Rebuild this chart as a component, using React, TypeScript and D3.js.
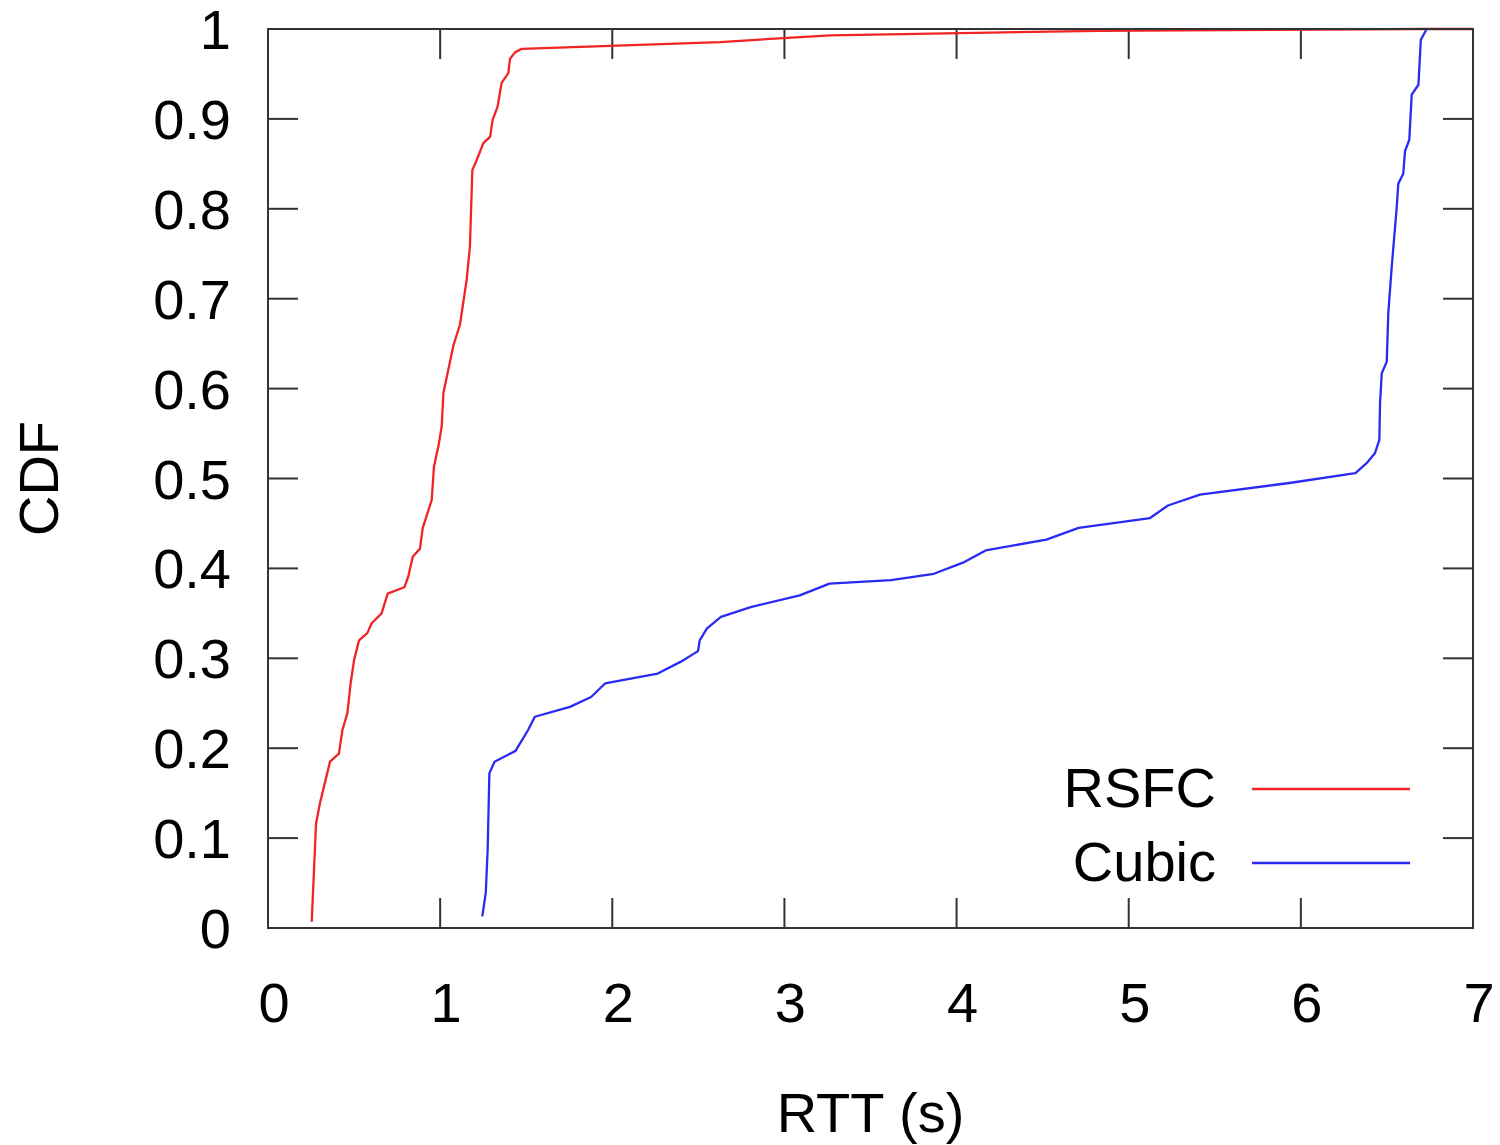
import * as d3 from "d3";

// RTT CDF values
const rsfcRtt = [0.254, 0.279, 0.302, 0.325, 0.36, 0.412, 0.432, 0.461, 0.48, 0.5, 0.529, 0.577, 0.602, 0.66, 0.695, 0.792, 0.815, 0.841, 0.883, 0.899, 0.951, 0.964, 0.993, 1.009, 1.019, 1.077, 1.115, 1.154, 1.173, 1.187, 1.212, 1.251, 1.29, 1.305, 1.334, 1.357, 1.396, 1.406, 1.435, 1.474, 2.626, 3.265, 4.83, 6.69, 7.0];
const rsfcCdf = [0.007, 0.116, 0.139, 0.157, 0.185, 0.194, 0.22, 0.239, 0.272, 0.298, 0.32, 0.328, 0.339, 0.35, 0.372, 0.379, 0.391, 0.413, 0.422, 0.445, 0.476, 0.513, 0.539, 0.558, 0.595, 0.648, 0.671, 0.721, 0.758, 0.843, 0.854, 0.873, 0.88, 0.899, 0.914, 0.94, 0.951, 0.967, 0.974, 0.978, 0.9855, 0.993, 0.998, 1.0, 1.0];

const cubicRtt = [1.245, 1.265, 1.276, 1.286, 1.316, 1.438, 1.51, 1.55, 1.754, 1.877, 1.958, 2.264, 2.396, 2.498, 2.508, 2.549, 2.631, 2.804, 3.089, 3.262, 3.619, 3.868, 4.045, 4.169, 4.522, 4.709, 5.124, 5.228, 5.414, 5.933, 6.317, 6.382, 6.43, 6.456, 6.46, 6.47, 6.499, 6.508, 6.528, 6.557, 6.566, 6.595, 6.605, 6.63, 6.644, 6.683, 6.697, 6.731];
const cubicCdf = [0.013, 0.039, 0.087, 0.172, 0.185, 0.197, 0.22, 0.235, 0.246, 0.257, 0.272, 0.283, 0.296, 0.308, 0.32, 0.333, 0.346, 0.357, 0.37, 0.383, 0.387, 0.394, 0.407, 0.42, 0.432, 0.445, 0.456, 0.47, 0.482, 0.495, 0.506, 0.517, 0.528, 0.543, 0.584, 0.617, 0.63, 0.684, 0.736, 0.802, 0.828, 0.839, 0.864, 0.877, 0.927, 0.938, 0.988, 1.0];

const xTicks = [0, 1, 2, 3, 4, 5, 6, 7];
const yTicks = [0, 0.1, 0.2, 0.3, 0.4, 0.5, 0.6, 0.7, 0.8, 0.9, 1];

const seriesNames = ["RSFC", "Cubic"];
const seriesColors = ["#f02424", "#2a2af2"];

const width = 1500;
const height = 1145;
const left = 268;
const right = 1473;
const top = 29;
const bottom = 928;
const tickLen = 30;
const fs = 56;
const font = "'Liberation Sans', Arial, Helvetica, sans-serif";

function App() {
  const x = d3.scaleLinear().domain([0, 7]).range([left, right]);
  const y = d3.scaleLinear().domain([0, 1]).range([bottom, top]);

  const line = d3
    .line<[number, number]>()
    .x((d) => x(d[0]))
    .y((d) => y(d[1]));

  const rsfc = line(rsfcRtt.map((v, i) => [v, rsfcCdf[i]] as [number, number]));
  const cubic = line(cubicRtt.map((v, i) => [v, cubicCdf[i]] as [number, number]));
  const paths = [rsfc, cubic];

  return (
    <svg
      width={width}
      height={height}
      viewBox={`0 0 ${width} ${height}`}
      style={{ position: "absolute", left: 0, top: 0, background: "#fff" }}
      fontFamily={font}
    >
      {/* ticks on all four sides, pointing inward */}
      <g stroke="#333" strokeWidth={2}>
        {xTicks.map((t) => (
          <g key={"x" + t}>
            <line x1={x(t)} x2={x(t)} y1={bottom} y2={bottom - tickLen} />
            <line x1={x(t)} x2={x(t)} y1={top} y2={top + tickLen} />
          </g>
        ))}
        {yTicks.map((t) => (
          <g key={"y" + t}>
            <line x1={left} x2={left + tickLen} y1={y(t)} y2={y(t)} />
            <line x1={right} x2={right - tickLen} y1={y(t)} y2={y(t)} />
          </g>
        ))}
      </g>

      {xTicks.map((t) => (
        <text key={"xl" + t} x={x(t) + 6} y={1022} fontSize={fs} textAnchor="middle" fill="#000">
          {t}
        </text>
      ))}
      {yTicks.map((t) => (
        <text key={"yl" + t} x={231} y={y(t) + 20} fontSize={fs} textAnchor="end" fill="#000">
          {t === 0 || t === 1 ? t : t.toFixed(1)}
        </text>
      ))}

      <text x={(left + right) / 2} y={1132} fontSize={fs} textAnchor="middle" fill="#000">
        RTT (s)
      </text>
      <text
        transform={`translate(58,${(top + bottom) / 2}) rotate(-90)`}
        fontSize={fs}
        textAnchor="middle"
        fill="#000"
      >
        CDF
      </text>

      {paths.map((d, i) => (
        <path key={i} d={d ?? ""} fill="none" stroke={seriesColors[i]} strokeWidth={2.3} strokeLinejoin="round" />
      ))}

      {/* legend */}
      {seriesNames.map((name, i) => (
        <g key={name}>
          <text x={1216} y={807 + i * 74} fontSize={fs} textAnchor="end" fill="#000">
            {name}
          </text>
          <line x1={1252} x2={1410} y1={789 + i * 74} y2={789 + i * 74} stroke={seriesColors[i]} strokeWidth={2.3} />
        </g>
      ))}

      <rect x={left} y={top} width={right - left} height={bottom - top} fill="none" stroke="#333" strokeWidth={2} />
    </svg>
  );
}

export default App;
